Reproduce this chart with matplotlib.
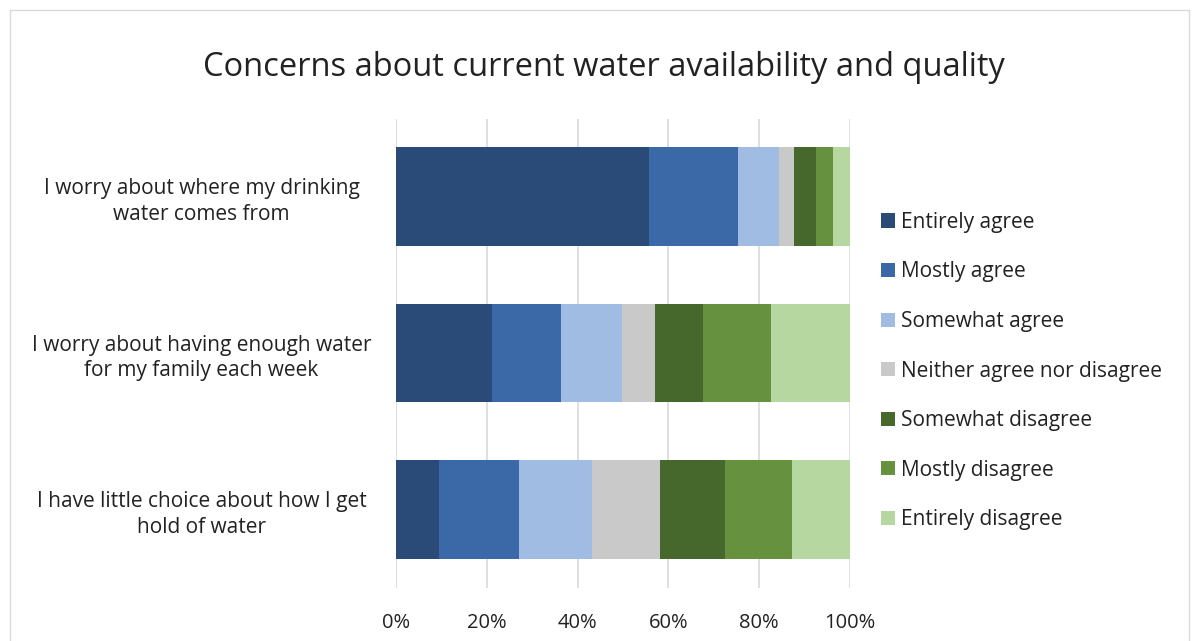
import matplotlib.pyplot as plt
import numpy as np
from matplotlib.patches import Rectangle

plt.rcParams['font.family'] = ['Open Sans', 'DejaVu Sans']

questions = [
    "I worry about where my drinking\nwater comes from",
    "I worry about having enough water\nfor my family each week",
    "I have little choice about how I get\nhold of water",
]
responses = ["Entirely agree", "Mostly agree", "Somewhat agree",
             "Neither agree nor disagree", "Somewhat disagree",
             "Mostly disagree", "Entirely disagree"]
colors = ["#2A4A78", "#3B69A7", "#A0BCE3", "#C9C9C9",
          "#46682D", "#66913F", "#B7D7A0"]

# percent per question, one list per response
entirely_agree = [55.7, 21.1, 9.5]
mostly_agree = [19.6, 15.2, 17.6]
somewhat_agree = [9.0, 13.4, 16.1]
neither = [3.4, 7.3, 14.9]
somewhat_disagree = [4.8, 10.6, 14.4]
mostly_disagree = [3.7, 15.0, 14.7]
entirely_disagree = [3.7, 17.3, 12.8]

series = [entirely_agree, mostly_agree, somewhat_agree, neither,
          somewhat_disagree, mostly_disagree, entirely_disagree]

fig = plt.figure(figsize=(11.92, 6.41), dpi=100)
ax = fig.add_axes([396 / 1192, 1 - 587.5 / 641, 454 / 1192, 469 / 641])

y = np.arange(len(questions))
left = np.zeros(len(questions))
for name, vals, c in zip(responses, series, colors):
    vals = np.array(vals)
    ax.barh(y, vals, left=left, height=0.63, color=c, label=name, zorder=3)
    left += vals

ax.set_xlim(0, 100)
ax.set_ylim(2.5, -0.5)
ax.set_xticks(np.arange(0, 101, 20))
ax.set_xticklabels([f"{v}%" for v in range(0, 101, 20)], fontsize=14.5, color="#222222")
ax.set_yticks(y)
ax.set_yticklabels(questions, fontsize=15, color="#222222", ha="center",
                   multialignment="center", linespacing=1.3)
ax.tick_params(axis="y", pad=140, length=0)
ax.tick_params(axis="x", pad=18, length=0)
ax.grid(axis="x", color="#D9D9D9", linewidth=1.2, zorder=0)
for s in ax.spines.values():
    s.set_visible(False)

fig.text(604 / 1192, 1 - 67 / 641, "Concerns about current water availability and quality",
         ha="center", va="center", fontsize=23.5, color="#222222")

ax.legend(loc="center left", bbox_to_anchor=(862 / 1192, 1 - 371 / 641),
          bbox_transform=fig.transFigure, frameon=False, fontsize=15,
          handlelength=0.68, handleheight=0.68, handletextpad=0.3,
          labelspacing=1.37, labelcolor="#222222")

fig.patches.append(Rectangle((10 / 1192, -0.01), 1179 / 1192, 1 - 10 / 641 + 0.01,
                             transform=fig.transFigure, fill=False,
                             edgecolor="#D9D9D9", linewidth=1))

fig.savefig("out.png", dpi=100)
